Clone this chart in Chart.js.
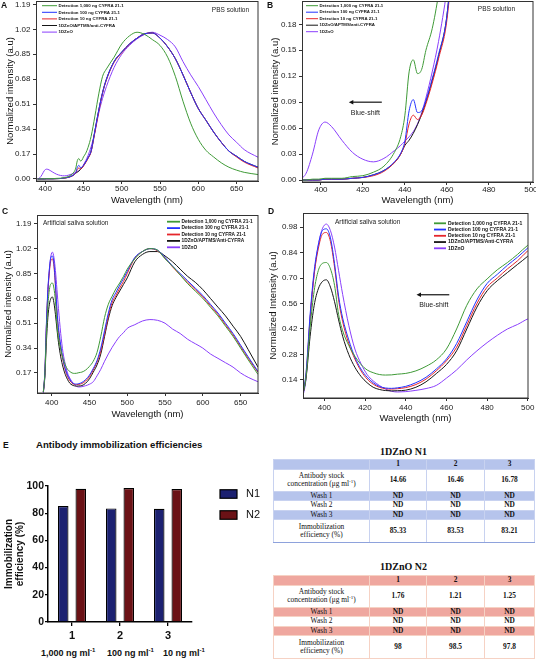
<!DOCTYPE html>
<html>
<head>
<meta charset="utf-8">
<script src="https://cdn.jsdelivr.net/npm/chart.js@4.4.1/dist/chart.umd.min.js"></script>
<style>
  body { margin: 0; background: #fff; width: 536px; height: 660px; position: relative; overflow: hidden;
         font-family: 'Liberation Sans', Arial, sans-serif; }
  canvas, .abs { position: absolute; }
  .tag { font-weight: bold; font-size: 8.5px; color: #111; }
  .etitle { left: 36px; top: 439px; font-weight: bold; font-size: 9.6px; color: #111; white-space: nowrap; }
  .sub { top: 647px; font-weight: bold; font-size: 9px; color: #111; white-space: nowrap; }
  .sub sup { font-size: 6px; }
  .ttl { font-family: 'Liberation Serif', 'Times New Roman', serif; font-weight: bold; font-size: 10px;
         width: 261px; text-align: center; color: #111; }
  table { position: absolute; border-collapse: collapse; table-layout: fixed; width: 261px;
          font-family: 'Liberation Serif', 'Times New Roman', serif; font-size: 7.4px; color: #111; }
  td { padding: 0; text-align: center; line-height: 8.5px; overflow: hidden; color: #111; }
  td.v { font-weight: bold; }
  td sup { font-size: 5px; line-height: 0; }
  .n1 td { border: 1px solid #c8d2f0; }
  .n1 tr.sh td { background: #b6c4ec; }
  .n1 tr:last-child td { border-bottom: 1.5px solid #8ea2dc; }
  .n2 td { border: 1px solid #f6d2c4; }
  .n2 tr.sh td { background: #efa79f; }
</style>
</head>
<body>
<canvas id="chartA" width="266" height="206" style="left:0;top:0"></canvas>
<canvas id="chartB" width="270" height="206" style="left:266px;top:0"></canvas>
<canvas id="chartC" width="266" height="220" style="left:0;top:206px"></canvas>
<canvas id="chartD" width="270" height="220" style="left:266px;top:206px"></canvas>
<canvas id="chartE" width="270" height="175" style="left:0;top:470px"></canvas>

<div class="abs tag" style="left:1px;top:0">A</div>
<div class="abs tag" style="left:267px;top:0">B</div>
<div class="abs tag" style="left:2px;top:206px">C</div>
<div class="abs tag" style="left:268px;top:206px">D</div>
<div class="abs tag" style="left:3px;top:440px">E</div>
<div class="abs etitle">Antibody immobilization efficiencies</div>
<div id="subLabels"></div>
<div id="tables"></div>

<script>
// ---- PBS solution spectra (panels A and B) ----
const pbsWavelength = [390,393,396,399,402,405,410,415,420,425,430,435,438,440,442,444,446,448,450,453,456,460,465,470,475,480,490,500,510,520,530,540,550,560,570,580,590,600,610,620,630,640,650,660,678];
const pbsGreen1000 = [0,0,0.001,0.001,0.002,0.002,0.002,0.004,0.005,0.009,0.016,0.032,0.05,0.075,0.125,0.139,0.123,0.128,0.15,0.175,0.215,0.29,0.43,0.58,0.70,0.75,0.83,0.92,0.975,1.0,0.985,0.95,0.91,0.83,0.70,0.53,0.38,0.27,0.195,0.15,0.11,0.08,0.06,0.045,0.03];
const pbsBlue100 = [0,0,0,0,0.001,0.001,0.001,0.002,0.003,0.006,0.011,0.021,0.031,0.045,0.08,0.093,0.078,0.08,0.092,0.117,0.145,0.19,0.33,0.47,0.59,0.68,0.80,0.865,0.92,0.96,0.99,0.995,0.96,0.90,0.82,0.71,0.59,0.48,0.40,0.32,0.25,0.19,0.155,0.12,0.08];
const pbsRed10 = [0,0,0,0,0.001,0.001,0.001,0.002,0.003,0.005,0.01,0.02,0.03,0.042,0.065,0.075,0.07,0.075,0.088,0.112,0.14,0.185,0.32,0.46,0.585,0.675,0.795,0.86,0.918,0.96,0.99,0.995,0.96,0.90,0.82,0.71,0.59,0.48,0.40,0.32,0.25,0.19,0.15,0.115,0.075];
const pbsBlack = [0,0,0,0,0.001,0.001,0.001,0.002,0.003,0.006,0.011,0.02,0.03,0.04,0.046,0.054,0.064,0.076,0.09,0.115,0.143,0.19,0.33,0.47,0.59,0.68,0.80,0.865,0.92,0.96,0.99,0.995,0.96,0.90,0.82,0.71,0.59,0.48,0.40,0.32,0.25,0.19,0.155,0.12,0.08];
const pbsZnO = [0,0.008,0.03,0.058,0.067,0.062,0.046,0.032,0.024,0.021,0.025,0.034,0.04,0.045,0.05,0.056,0.065,0.078,0.095,0.125,0.16,0.22,0.32,0.45,0.55,0.63,0.76,0.85,0.91,0.955,0.985,1.0,0.98,0.95,0.90,0.80,0.71,0.63,0.54,0.45,0.37,0.30,0.25,0.20,0.148];

// ---- Artificial saliva spectra (panels C and D) ----
const salWavelength = [389,391,393,395,397,399,401,403,405,407,409,412,415,418,421,424,427,430,433,436,440,445,450,455,460,465,470,475,480,485,490,495,500,510,520,530,540,550,560,570,580,590,600,610,620,630,640,650,660,673];
const salGreen1000 = [0.04,0.16,0.43,0.63,0.74,0.78,0.785,0.75,0.66,0.50,0.41,0.33,0.27,0.225,0.195,0.18,0.17,0.167,0.168,0.172,0.176,0.19,0.215,0.25,0.31,0.42,0.55,0.64,0.695,0.745,0.785,0.83,0.88,0.95,1.0,1.02,1.01,0.95,0.90,0.84,0.78,0.73,0.68,0.62,0.56,0.49,0.42,0.34,0.26,0.16];
const salBlue100 = [0.04,0.18,0.50,0.74,0.88,0.96,0.97,0.92,0.78,0.60,0.48,0.36,0.265,0.20,0.155,0.125,0.105,0.096,0.094,0.097,0.105,0.125,0.155,0.20,0.255,0.34,0.46,0.58,0.67,0.72,0.77,0.815,0.865,0.96,1.0,1.02,1.01,0.96,0.90,0.85,0.80,0.75,0.70,0.64,0.58,0.51,0.44,0.36,0.28,0.18];
const salRed10 = [0.04,0.17,0.48,0.72,0.86,0.94,0.95,0.90,0.76,0.58,0.46,0.34,0.255,0.19,0.145,0.117,0.10,0.092,0.09,0.092,0.098,0.115,0.145,0.19,0.245,0.32,0.44,0.56,0.65,0.70,0.75,0.795,0.85,0.955,1.0,1.02,1.005,0.955,0.895,0.84,0.79,0.74,0.69,0.63,0.57,0.50,0.43,0.35,0.27,0.175];
const salBlack = [0.04,0.15,0.38,0.55,0.64,0.68,0.69,0.65,0.57,0.47,0.38,0.28,0.21,0.16,0.125,0.10,0.088,0.082,0.08,0.081,0.084,0.10,0.13,0.175,0.225,0.30,0.42,0.54,0.63,0.685,0.73,0.775,0.82,0.93,0.98,1.0,1.0,0.97,0.93,0.88,0.83,0.79,0.74,0.68,0.62,0.56,0.49,0.42,0.33,0.21];
const salZnO = [0.03,0.15,0.48,0.72,0.88,0.97,0.996,0.96,0.87,0.74,0.61,0.44,0.31,0.23,0.17,0.135,0.11,0.09,0.078,0.074,0.076,0.083,0.093,0.11,0.15,0.195,0.25,0.30,0.345,0.385,0.42,0.445,0.475,0.50,0.525,0.535,0.53,0.51,0.47,0.44,0.40,0.37,0.34,0.30,0.27,0.24,0.21,0.17,0.14,0.11];

const pbsLabels = ['Detection 1,000 ng CYFRA 21-1', 'Detection 100 ng CYFRA 21-1', 'Detection 10 ng CYFRA 21-1', '1DZnO/APTMS/anti-CYFRA', '1DZnO'];
const salLabels = ['Detection 1,000 ng CYFRA 21-1', 'Detection 100 ng CYFRA 21-1', 'Detection 10 ng CYFRA 21-1', '1DZnO/APTMS/Anti-CYFRA', '1DZnO'];

// tick labels
const wideXTicks = [400, 450, 500, 550, 600, 650];
const zoomXTicks = [400, 420, 440, 460, 480, 500];
const yTicksA = [0, 0.17, 0.34, 0.51, 0.68, 0.85, 1.02, 1.19];
const yTicksB = [0, 0.03, 0.06, 0.09, 0.12, 0.15, 0.18];
const yTicksC = [0.17, 0.34, 0.51, 0.68, 0.85, 1.02, 1.19];
const yTicksD = [0.14, 0.28, 0.42, 0.56, 0.70, 0.84, 0.98];

// ---- Panel E: immobilization (bars + tables) ----
const runLabels = ['1', '2', '3'];
const runConcLabels = ['1,000 ng ml<sup>-1</sup>', '100 ng ml<sup>-1</sup>', '10 ng ml<sup>-1</sup>'];
const stockN1 = ['14.66', '16.46', '16.78'];
const effN1 = [85.33, 83.53, 83.21];
const stockN2 = ['1.76', '1.21', '1.25'];
const effN2 = [98, 98.5, 97.8];
const washResults = ['ND', 'ND', 'ND'];
const barTicks = [0, 20, 40, 60, 80, 100];

const FONT = "'Liberation Sans', Arial, sans-serif";
const LINE_COLORS = ['#3f9a37', '#2233ff', '#e5262b', '#151515', '#8a3ffc'];

// legend drawn inside the plot area (lines or boxes, from the datasets)
const insetLegend = {
  id: 'insetLegend',
  afterDraw(chart, _args, o) {
    const { ctx, chartArea: ca } = chart;
    ctx.save();
    ctx.font = o.font;
    ctx.textBaseline = 'middle';
    ctx.textAlign = 'left';
    chart.data.datasets.forEach((ds, i) => {
      const x = ca.left + o.dx;
      const y = ca.top + o.dy + i * o.gap;
      if (o.box) {
        ctx.fillStyle = ds.backgroundColor;
        ctx.fillRect(x, y - o.boxH / 2, o.len, o.boxH);
        ctx.strokeStyle = '#000';
        ctx.lineWidth = 1.2;
        ctx.strokeRect(x, y - o.boxH / 2, o.len, o.boxH);
      } else {
        ctx.strokeStyle = ds.borderColor;
        ctx.lineWidth = o.lineWidth;
        ctx.beginPath();
        ctx.moveTo(x, y);
        ctx.lineTo(x + o.len, y);
        ctx.stroke();
      }
      ctx.fillStyle = '#111';
      ctx.fillText(ds.label, x + o.len + o.textGap, y);
    });
    ctx.restore();
  }
};

// free text and arrows placed in data coordinates
const notes = {
  id: 'notes',
  afterDraw(chart, _args, o) {
    const { ctx, scales: { x, y } } = chart;
    ctx.save();
    ctx.fillStyle = '#222';
    ctx.textBaseline = 'middle';
    (o.texts || []).forEach(t => {
      ctx.font = `${t.size}px ${FONT}`;
      ctx.textAlign = t.align || 'center';
      ctx.fillText(t.text, x.getPixelForValue(t.x), y.getPixelForValue(t.y));
    });
    (o.arrows || []).forEach(a => {
      const x1 = x.getPixelForValue(a.x1), x2 = x.getPixelForValue(a.x2), py = y.getPixelForValue(a.y);
      ctx.strokeStyle = '#111';
      ctx.lineWidth = 1.2;
      ctx.beginPath();
      ctx.moveTo(x1, py);
      ctx.lineTo(x2 + 3, py);
      ctx.stroke();
      ctx.fillStyle = '#111';
      ctx.beginPath();
      ctx.moveTo(x2, py);
      ctx.lineTo(x2 + 4.5, py - 2.2);
      ctx.lineTo(x2 + 4.5, py + 2.2);
      ctx.closePath();
      ctx.fill();
    });
    ctx.restore();
  }
};

const frame = {
  id: 'frame',
  afterDatasetsDraw(chart) {
    const { ctx, chartArea: ca } = chart;
    ctx.save();
    ctx.strokeStyle = '#333';
    ctx.lineWidth = 1;
    ctx.strokeRect(Math.round(ca.left) + 0.5, Math.round(ca.top) + 0.5, Math.round(ca.width) - 0.5, Math.round(ca.height) - 0.5);
    ctx.restore();
  }
};

function buildLines(wl, seriesList, labels) {
  return seriesList.map((vals, i) => ({
    label: labels[i],
    data: wl.map((w, k) => ({ x: w, y: vals[k] })),
    borderColor: LINE_COLORS[i],
    backgroundColor: LINE_COLORS[i],
    borderWidth: 1,
    pointRadius: 0,
    cubicInterpolationMode: 'monotone',
    fill: false,
  }));
}

function spectrumChart(id, p) {
  return new Chart(document.getElementById(id), {
    type: 'line',
    data: { datasets: buildLines(p.wl, p.series, p.labels) },
    options: {
      responsive: false,
      animation: false,
      events: [],
      layout: { padding: { top: p.top, right: p.right, left: 0, bottom: 0 } },
      plugins: {
        legend: { display: false },
        tooltip: { enabled: false },
        insetLegend: p.legend,
        notes: { texts: p.texts, arrows: p.arrows || [] },
      },
      scales: {
        x: {
          type: 'linear', min: p.xMin, max: p.xMax,
          afterBuildTicks: s => { s.ticks = p.xTicks.map(v => ({ value: v })); },
          afterFit: s => { s.height = p.xAxisH; s.paddingLeft = 0; s.paddingRight = 0; },
          grid: { drawOnChartArea: false, tickLength: 3, color: '#333' },
          border: { color: '#333' },
          ticks: { font: { size: 8, family: FONT }, color: '#222', padding: p.xTickPad, maxRotation: 0, autoSkip: false, callback: v => v },
          title: { display: true, text: 'Wavelength (nm)', font: { size: 9.5, family: FONT }, color: '#111', padding: { top: 0, bottom: p.xTitlePad } },
        },
        y: {
          min: p.yMin, max: p.yMax,
          afterBuildTicks: s => { s.ticks = p.yTicks.map(v => ({ value: v })); },
          afterFit: s => { s.width = p.yAxisW; s.paddingTop = 0; s.paddingBottom = 0; },
          grid: { drawOnChartArea: false, tickLength: 3, color: '#333' },
          border: { color: '#333' },
          ticks: { font: { size: 8, family: FONT }, color: '#222', padding: 2.5, autoSkip: false, callback: v => v.toFixed(2) },
          title: { display: true, text: p.yTitle, font: { size: 9.5, family: FONT }, color: '#111', padding: { top: p.yTitlePad, bottom: 0 } },
        },
      },
    },
    plugins: [insetLegend, notes, frame],
  });
}

const pbsSeries = [pbsGreen1000, pbsBlue100, pbsRed10, pbsBlack, pbsZnO];
const salSeries = [salGreen1000, salBlue100, salRed10, salBlack, salZnO];

spectrumChart('chartA', {
  wl: pbsWavelength, series: pbsSeries, labels: pbsLabels,
  top: 1, right: 8, xAxisH: 25, yAxisW: 36, xTickPad: 0, xTitlePad: 0, yTitlePad: 4.5,
  xMin: 388, xMax: 678, xTicks: wideXTicks, yMin: -0.014, yMax: 1.213, yTicks: yTicksA,
  yTitle: 'Normalized intensity (a.u)',
  legend: { dx: 6, dy: 4.7, gap: 6.6, len: 15, lineWidth: 1, textGap: 1.5, font: `bold 4.4px ${FONT}` },
  texts: [{ text: 'PBS solution', x: 642, y: 1.147, size: 6.5 }],
});

spectrumChart('chartB', {
  wl: pbsWavelength, series: pbsSeries, labels: pbsLabels,
  top: 1, right: 3, xAxisH: 24, yAxisW: 36, xTickPad: 0, xTitlePad: 0, yTitlePad: 3.5,
  xMin: 391, xMax: 501, xTicks: zoomXTicks, yMin: -0.0023, yMax: 0.207, yTicks: yTicksB,
  yTitle: 'Normalized intensity (a.u)',
  legend: { dx: 4, dy: 4.7, gap: 6.5, len: 12, lineWidth: 1, textGap: 1.5, font: `bold 4.3px ${FONT}` },
  texts: [
    { text: 'PBS solution', x: 483.6, y: 0.197, size: 6.5 },
    { text: 'Blue-shift', x: 421.2, y: 0.0777, size: 7 },
  ],
  arrows: [{ x1: 429, x2: 413.3, y: 0.09 }],
});

spectrumChart('chartC', {
  wl: salWavelength, series: salSeries, labels: salLabels,
  top: 9, right: 8, xAxisH: 33, yAxisW: 37, xTickPad: 1.5, xTitlePad: 6.3, yTitlePad: 3,
  xMin: 380.6, xMax: 673, xTicks: wideXTicks, yMin: 0.033, yMax: 1.25, yTicks: yTicksC,
  yTitle: 'Normalized intensity (a.u)',
  legend: { dx: 130, dy: 6.7, gap: 6.4, len: 13, lineWidth: 1.8, textGap: 1.5, font: `bold 4.8px ${FONT}` },
  texts: [{ text: 'Artificial saliva solution', x: 388.5, y: 1.192, size: 6.5, align: 'left' }],
});

spectrumChart('chartD', {
  wl: salWavelength, series: salSeries, labels: salLabels,
  top: 7, right: 8, xAxisH: 28, yAxisW: 37, xTickPad: 1.5, xTitlePad: 2.3, yTitlePad: 2,
  xMin: 389.5, xMax: 500.1, xTicks: zoomXTicks, yMin: 0.041, yMax: 1.057, yTicks: yTicksD,
  yTitle: 'Normalized Intensity (a.u)',
  legend: { dx: 131, dy: 10.3, gap: 6.25, len: 12, lineWidth: 1.8, textGap: 2, font: `bold 5px ${FONT}` },
  texts: [
    { text: 'Artificial saliva solution', x: 405.2, y: 1.007, size: 6.5, align: 'left' },
    { text: 'Blue-shift', x: 453.8, y: 0.553, size: 7 },
  ],
  arrows: [{ x1: 461.4, x2: 445.3, y: 0.608 }],
});

// ---- Panel E bar chart ----
new Chart(document.getElementById('chartE'), {
  type: 'bar',
  data: {
    labels: runLabels,
    datasets: [
      { label: 'N1', data: effN1, backgroundColor: '#1c2171', borderColor: '#000', borderWidth: 1.2, categoryPercentage: 0.73, barPercentage: 0.6 },
      { label: 'N2', data: effN2, backgroundColor: '#6b1216', borderColor: '#000', borderWidth: 1.2, categoryPercentage: 0.73, barPercentage: 0.6 },
    ],
  },
  options: {
    responsive: false,
    animation: false,
    events: [],
    layout: { padding: { top: 16, right: 78, left: 0, bottom: 0 } },
    plugins: {
      legend: { display: false },
      tooltip: { enabled: false },
      insetLegend: { box: true, dx: 172, dy: 8, gap: 21, len: 17, boxH: 8.5, textGap: 9, font: `11px ${FONT}` },
      notes: {},
    },
    scales: {
      x: {
        afterFit: s => { s.height = 23; s.paddingLeft = 0; s.paddingRight = 0; },
        grid: { drawOnChartArea: false, offset: false, tickLength: 4, color: '#000', lineWidth: 1.3 },
        border: { color: '#000', width: 1.5 },
        ticks: { font: { size: 11, weight: 'bold', family: FONT }, color: '#111', padding: 3 },
      },
      y: {
        min: 0, max: 100,
        afterBuildTicks: s => { s.ticks = barTicks.map(v => ({ value: v })); },
        afterFit: s => { s.width = 48; s.paddingTop = 0; s.paddingBottom = 0; },
        grid: { drawOnChartArea: false, tickLength: 3, color: '#000', lineWidth: 1.3 },
        border: { color: '#000', width: 1.5 },
        ticks: { font: { size: 10.5, weight: 'bold', family: FONT }, color: '#111', padding: 1 },
        title: { display: true, text: ['Immobilization', 'efficiency (%)'], font: { size: 10, weight: 'bold', family: FONT, lineHeight: 1.1 }, color: '#111', padding: { top: 3.5, bottom: 0 } },
      },
    },
  },
  plugins: [insetLegend],
});

// concentration captions under the bar groups
const subLefts = [41, 107, 163];
document.getElementById('subLabels').innerHTML = runConcLabels
  .map((t, i) => `<div class="abs sub" style="left:${subLefts[i]}px">${t}</div>`).join('');

// ---- tables ----
function tableHTML(cls, title, titleTop, tableTop, stock, eff) {
  const rows = [
    { label: '', vals: runLabels, h: 8, sh: true },
    { label: 'Antibody stock<br>concentration (μg ml<sup>-1</sup>)', vals: stock, h: 22, sh: false },
    { label: 'Wash 1', vals: washResults, h: 8, sh: true },
    { label: 'Wash 2', vals: washResults, h: 8, sh: false },
    { label: 'Wash 3', vals: washResults, h: 8, sh: true },
    { label: 'Immobilization<br>efficiency (%)', vals: eff, h: 23, sh: false },
  ];
  const body = rows.map(r => `<tr class="${r.sh ? 'sh' : ''}" style="height:${r.h}px"><td>${r.label}</td>${r.vals.map(v => `<td class="v">${v}</td>`).join('')}</tr>`).join('');
  return `<div class="abs ttl" style="left:273px;top:${titleTop}px">${title}</div>
    <table class="${cls}" style="left:273px;top:${tableTop}px">
      <colgroup><col style="width:96px"><col style="width:57px"><col style="width:58px"><col style="width:50px"></colgroup>
      ${body}
    </table>`;
}

document.getElementById('tables').innerHTML =
  tableHTML('n1', '1DZnO N1', 446, 459, stockN1, effN1.map(String)) +
  tableHTML('n2', '1DZnO N2', 561, 575, stockN2, effN2.map(String));
</script>
</body>
</html>
